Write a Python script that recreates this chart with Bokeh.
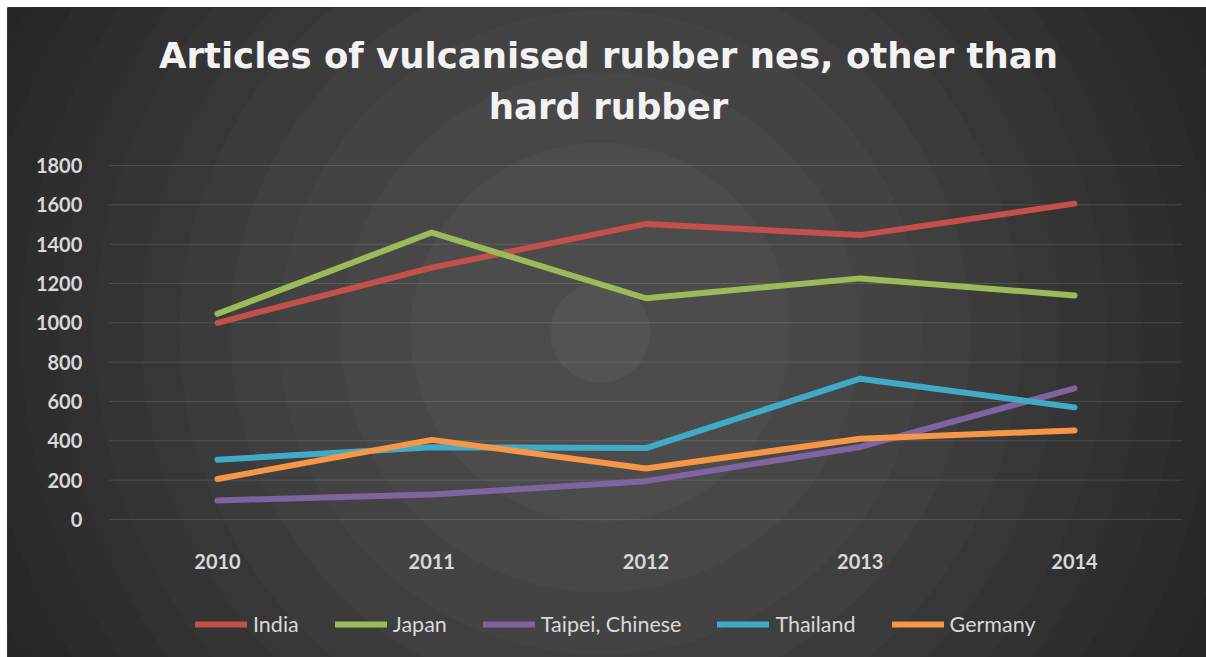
from bokeh.plotting import figure
from bokeh.models import Range1d, LinearAxis, FixedTicker, Legend, LegendItem, Label
from bokeh.embed import file_html
from bokeh.resources import INLINE

# ---------------- data ----------------
years = [2010, 2011, 2012, 2013, 2014]
x_tick_labels = ["2010", "2011", "2012", "2013", "2014"]
india = [1000, 1281, 1503, 1446, 1606]
japan = [1046, 1459, 1125, 1226, 1139]
taipei = [97, 127, 195, 369, 667]
thailand = [304, 367, 363, 716, 570]
germany = [206, 405, 259, 411, 453]
series_names = ["India", "Japan", "Taipei, Chinese", "Thailand", "Germany"]
series_colors = ["#c4504b", "#9bbb59", "#8064a2", "#3fabc8", "#f79646"]
y_ticks = [0, 200, 400, 600, 800, 1000, 1200, 1400, 1600, 1800]
y_tick_labels = [str(t) for t in y_ticks]
title_lines = ["Articles of vulcanised rubber nes, other than", "hard rubber"]

# ---------------- layout (pixels) ----------------
W, H = 1206, 657
FL, FT = 7, 7                 # frame left / top
FW, FH = W - FL, H - FT       # frame size
PX_FIRST, PX_STEP = 217, 214.25   # pixel of first category, per category
PY_ZERO, PY_TOP = 519, 165        # pixel of 0 and of 1800
SY = (PY_ZERO - PY_TOP) / y_ticks[-1]

x_start = years[0] - (PX_FIRST - FL) / PX_STEP
x_end = x_start + FW / PX_STEP
y_start = -(H - PY_ZERO) / SY
y_end = y_start + FH / SY


def dx(px):
    return years[0] + (px - PX_FIRST) / PX_STEP


def dy(py):
    return (PY_ZERO - py) / SY


p = figure(width=W, height=H, x_range=Range1d(x_start, x_end), y_range=Range1d(y_start, y_end),
           output_backend="svg", toolbar_location=None, x_axis_type=None, y_axis_type=None,
           min_border=0, min_border_left=FL, min_border_top=FT)
p.background_fill_color = "#1e1e1e"
p.border_fill_color = "white"
p.outline_line_color = None

# radial background bands
radii = [820, 760, 705, 660, 620, 580, 541, 506, 460, 421, 370, 322, 260, 190, 50]
levels = [0x20, 0x22, 0x25, 0x28, 0x2b, 0x2e, 0x31, 0x34, 0x37, 0x3b, 0x3f, 0x43, 0x47, 0x4c, 0x53]
cx, cy = dx(600), dy(332)
p.scatter(x=[cx] * len(radii), y=[cy] * len(radii), size=[2 * r for r in radii],
          marker="circle", line_color=None,
          fill_color=["#%02x%02x%02x" % (l, l, l) for l in levels])

# gridlines
gx0, gx1 = years[0] - 0.505, years[-1] + 0.505
p.segment(x0=[gx0] * len(y_ticks), x1=[gx1] * len(y_ticks), y0=y_ticks, y1=y_ticks,
          line_color="#ffffff", line_alpha=0.13, line_width=1)

# axes
xaxis = LinearAxis(ticker=FixedTicker(ticks=years), fixed_location=0)
xaxis.major_label_overrides = dict(zip(years, x_tick_labels))
yaxis = LinearAxis(ticker=FixedTicker(ticks=y_ticks), fixed_location=gx0)
yaxis.major_label_overrides = dict(zip(y_ticks, y_tick_labels))
for ax in (xaxis, yaxis):
    ax.axis_line_color = None
    ax.major_tick_line_color = None
    ax.minor_tick_line_color = None
    ax.major_label_text_font = "Lato"
    ax.major_label_text_font_style = "bold"
    ax.major_label_text_font_size = "20px"
    ax.major_label_text_color = "#d9d9d9"
xaxis.major_label_standoff = 28
yaxis.major_label_standoff = 21
p.add_layout(xaxis, "below")
p.add_layout(yaxis, "left")

# series
items = []
for name, vals, col in zip(series_names, [india, japan, taipei, thailand, germany], series_colors):
    r = p.line(years, vals, line_color=col, line_width=6, line_cap="round", line_join="round")
    items.append(LegendItem(label=name, renderers=[r]))

legend = Legend(items=items, orientation="horizontal", location=(188, 20),
                background_fill_alpha=0, border_line_alpha=0, padding=0, margin=0,
                spacing=36, glyph_width=52, glyph_height=20, label_standoff=6,
                label_text_font="Lato", label_text_font_size="21.5px", label_text_color="#d9d9d9")
p.add_layout(legend)

# title
for txt, py in zip(title_lines, [55, 106]):
    p.add_layout(Label(x=dx(608), y=dy(py), text=txt, text_align="center", text_baseline="middle",
                       text_font="DejaVu Sans", text_font_style="bold", text_font_size="35.5px",
                       text_color="#f2f2f2"))

open("out.html", "w").write(file_html(p, INLINE))
